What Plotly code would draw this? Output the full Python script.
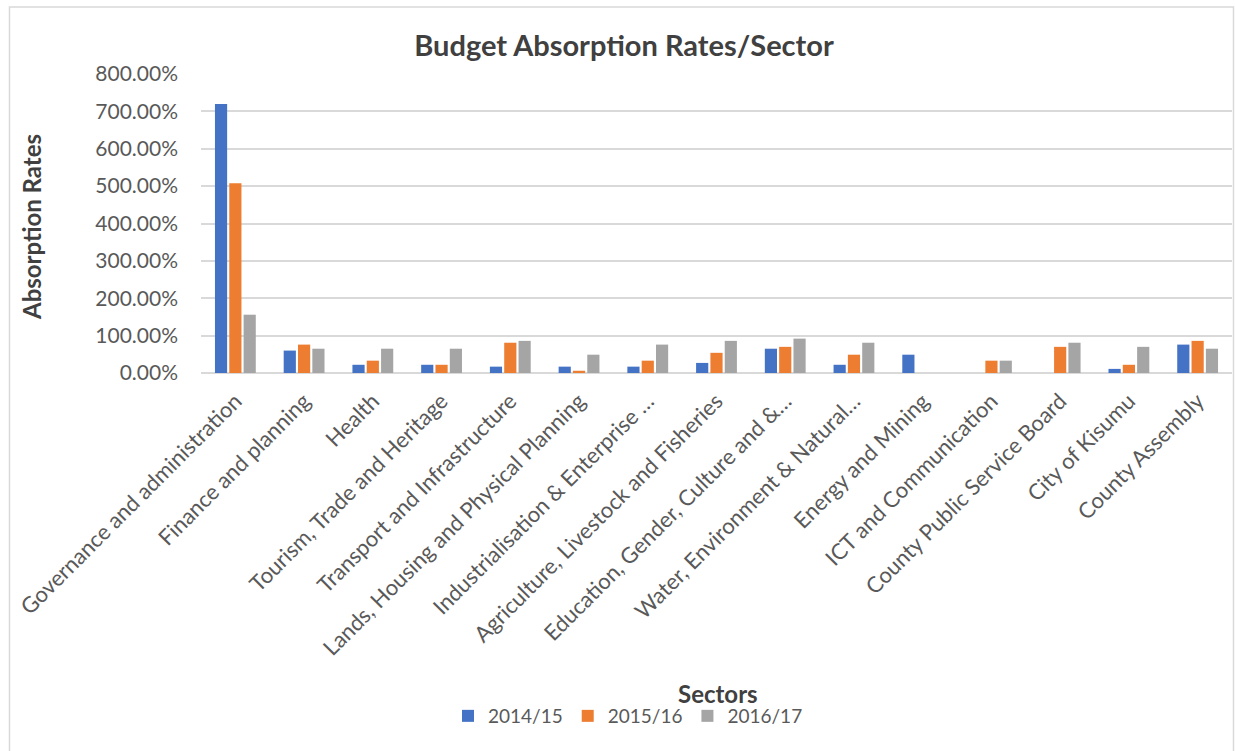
import plotly.graph_objects as go

categories = [
    "Governance and administration",
    "Finance and planning",
    "Health",
    "Tourism, Trade and Heritage",
    "Transport and Infrastructure",
    "Lands, Housing and Physical Planning",
    "Industrialisation & Enterprise …",
    "Agriculture, Livestock and Fisheries",
    "Education, Gender, Culture and &…",
    "Water, Environment & Natural…",
    "Energy and Mining",
    "ICT and Communication",
    "County Public Service Board",
    "City of Kisumu",
    "County Assembly",
]

series_names = ["2014/15", "2015/16", "2016/17"]

rates_2014_15 = [7.20, 0.60, 0.22, 0.22, 0.17, 0.17, 0.17, 0.27, 0.65, 0.22, 0.49, 0.0, 0.0, 0.11, 0.76]
rates_2015_16 = [5.08, 0.76, 0.33, 0.22, 0.81, 0.06, 0.33, 0.54, 0.70, 0.49, 0.0, 0.33, 0.70, 0.22, 0.86]
rates_2016_17 = [1.56, 0.65, 0.65, 0.65, 0.86, 0.49, 0.76, 0.86, 0.92, 0.81, 0.0, 0.33, 0.81, 0.70, 0.65]

colors = ["#4472C4", "#ED7D31", "#A5A5A5"]

W, H = 1235, 751
L, R, T, B = 201, 1232, 74, 373
pw, ph = R - L, B - T

FONT = "Lato, 'Open Sans', sans-serif"

fig = go.Figure()
for name, vals, col in zip(series_names, [rates_2014_15, rates_2015_16, rates_2016_17], colors):
    fig.add_trace(go.Bar(x=categories, y=vals, name=name, marker_color=col, marker_line_width=0))

def px_x(x):
    return (x - L) / pw

def px_y(y):
    return (B - y) / ph

fig.update_layout(
    width=W, height=H,
    margin=dict(l=L, r=W - R, t=T, b=H - B, autoexpand=False),
    paper_bgcolor="white", plot_bgcolor="white",
    barmode="group", bargap=0.375, bargroupgap=0.15,
    font=dict(family=FONT, color="#595959"),
    title=dict(text="<b>Budget Absorption Rates/Sector</b>", x=624 / W, xanchor="center",
               xref="container", yref="container", y=1 - 46 / H, yanchor="middle",
               font=dict(size=29, color="#404040", family=FONT)),
    legend=dict(orientation="h", xref="container", yref="container", x=628 / W, xanchor="center",
                y=1 - 716 / H, yanchor="middle", font=dict(size=19, color="#595959"),
                itemwidth=30, tracegroupgap=0),
    showlegend=True,
)

fig.update_yaxes(
    range=[0, 8], dtick=1, tickformat=".2%", showgrid=True, gridcolor="#D9D9D9", gridwidth=1.5,
    zeroline=True, zerolinecolor="#D9D9D9", zerolinewidth=1.5, showline=False,
    tickfont=dict(size=21, color="#595959"), ticklabelstandoff=22, automargin=False,
)
fig.update_xaxes(
    tickangle=-45, tickfont=dict(size=22, color="#595959"), showline=False, showgrid=False,
    ticks="", automargin=False, ticklabelstandoff=10,
)

fig.add_annotation(text="<b>Absorption Rates</b>", textangle=-90, xref="paper", yref="paper",
                   x=px_x(31), y=px_y(227), xanchor="center", yanchor="middle", showarrow=False,
                   font=dict(size=24, color="#404040", family=FONT))
fig.add_annotation(text="<b>Sectors</b>", xref="paper", yref="paper",
                   x=px_x(718), y=px_y(693), xanchor="center", yanchor="middle", showarrow=False,
                   font=dict(size=24, color="#404040", family=FONT))

fig.add_shape(type="rect", xref="paper", yref="paper",
              x0=px_x(9.5), x1=px_x(1233.5), y0=px_y(770), y1=px_y(7),
              line=dict(color="#D9D9D9", width=1.5), fillcolor="rgba(0,0,0,0)", layer="below")

fig.write_html("out.html")
